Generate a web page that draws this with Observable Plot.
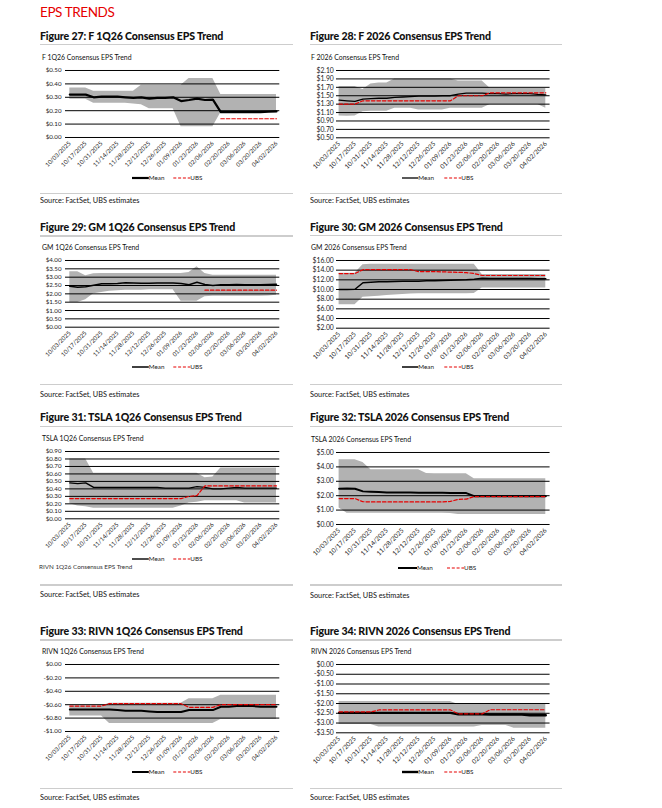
<!DOCTYPE html>
<html><head><meta charset="utf-8">
<script src="https://cdn.jsdelivr.net/npm/d3@7"></script>
<script src="https://cdn.jsdelivr.net/npm/@observablehq/plot@0.6"></script>
<style>
body{margin:0;background:#fff;font-family:Lato,"Open Sans",sans-serif;color:#111;}
#page{position:relative;width:662px;height:808px;overflow:hidden;background:#fff;}
.t{position:absolute;white-space:nowrap;line-height:1;}
.rule{position:absolute;height:1.5px;background:#cdcdcd;}
.chart{position:absolute;}
</style></head><body><div id="page"></div>
<script>
// ---------- data ----------
const xTickLabels = ["10/03/2025","10/17/2025","10/31/2025","11/14/2025","11/28/2025","12/12/2025","12/26/2025","01/09/2026","01/23/2026","02/06/2026","02/20/2026","03/06/2026","03/20/2026","04/02/2026"];
const weekIdx = [0,0.5,1,1.5,2,2.5,3,3.5,4,4.5,5,5.5,6,6.5,7,7.5,8,8.5,9,9.5,10,10.5,11,11.5,12,12.5,13];

// F 1Q26
const f1qTicks = [0,0.1,0.2,0.3,0.4,0.5];
const f1qMean = [0.32,0.32,0.32,0.30,0.305,0.305,0.305,0.30,0.295,0.30,0.29,0.295,0.295,0.30,0.272,0.28,0.29,0.28,0.283,0.19,0.19,0.19,0.19,0.19,0.19,0.192,0.195];
const f1qUbs = [null,null,null,null,null,null,null,null,null,null,null,null,null,null,null,null,null,null,null,0.14,0.14,0.14,0.14,0.14,0.14,0.14,0.14];
const f1qHigh = [0.37,0.37,0.37,0.345,0.345,0.345,0.345,0.345,0.345,0.39,0.39,0.39,0.39,0.39,0.39,0.44,0.44,0.44,0.44,0.32,0.32,0.32,0.32,0.32,0.32,0.32,0.32];
const f1qLow = [0.285,0.285,0.285,0.255,0.255,0.255,0.255,0.255,0.25,0.245,0.215,0.215,0.215,0.215,0.08,0.08,0.08,0.08,0.08,0.185,0.185,0.185,0.185,0.185,0.185,0.185,0.185];

// F 2026
const f26Ticks = [0.5,0.7,0.9,1.1,1.3,1.5,1.7,1.9,2.1];
const f26Mean = [1.395,1.38,1.365,1.42,1.43,1.44,1.44,1.46,1.47,1.48,1.49,1.49,1.49,1.50,1.50,1.54,1.56,1.56,1.56,1.55,1.55,1.54,1.55,1.55,1.55,1.53,1.52];
const f26Ubs = [1.30,1.30,1.30,1.38,1.38,1.38,1.38,1.38,1.38,1.38,1.38,1.38,1.38,1.38,1.38,1.50,1.50,1.50,1.50,1.57,1.57,1.57,1.57,1.57,1.57,1.57,1.57];
const f26High = [1.72,1.72,1.72,1.65,1.78,1.80,1.80,1.90,1.90,1.90,1.90,1.90,1.90,1.90,1.90,1.85,1.85,1.85,1.85,1.68,1.68,1.68,1.68,1.68,1.68,1.68,1.68];
const f26Low = [1.02,1.01,1.02,1.12,1.13,1.13,1.13,1.20,1.20,1.20,1.16,1.16,1.16,1.16,1.20,1.20,1.20,1.20,1.20,1.29,1.29,1.29,1.29,1.29,1.29,1.29,1.20];

// GM 1Q26
const gm1qTicks = [0,0.5,1,1.5,2,2.5,3,3.5,4];
const gm1qMean = [2.45,2.40,2.42,2.52,2.60,2.60,2.62,2.67,2.65,2.63,2.64,2.65,2.65,2.65,2.62,2.55,2.70,2.56,2.50,2.55,2.55,2.56,2.55,2.55,2.55,2.56,2.57];
const gm1qUbs = [null,null,null,null,null,null,null,null,null,null,null,null,null,null,null,null,null,2.22,2.22,2.22,2.22,2.22,2.22,2.22,2.22,2.22,2.22];
const gm1qHigh = [3.32,3.32,3.08,3.20,3.22,3.22,3.22,3.22,3.22,3.22,3.22,3.22,3.22,3.22,3.22,3.28,3.62,3.22,3.12,3.12,3.12,3.12,3.12,3.12,3.12,3.12,3.12];
const gm1qLow = [1.48,1.48,1.65,2.00,2.08,2.15,2.18,2.22,2.22,2.22,2.24,2.24,2.25,2.25,1.55,1.55,1.55,1.82,1.85,1.85,1.85,1.85,1.85,1.85,1.85,1.87,1.92];

// GM 2026
const gm26Ticks = [2,4,6,8,10,12,14,16];
const gm26Mean = [10.0,10.0,10.05,11.4,11.5,11.6,11.6,11.65,11.7,11.7,11.7,11.8,11.8,11.85,11.9,11.95,12.0,12.1,12.35,12.3,12.3,12.3,12.3,12.3,12.3,12.25,12.2];
const gm26Ubs = [13.3,13.3,13.3,14.1,14.1,14.1,14.1,14.1,14.1,14.1,13.7,13.7,13.7,13.65,13.6,13.55,13.5,13.3,12.9,12.9,12.9,12.9,12.9,12.9,12.9,12.9,12.9];
const gm26High = [13.35,13.35,13.35,15.1,15.2,15.2,15.2,15.2,15.2,15.2,15.2,15.2,15.2,15.2,15.2,15.2,15.2,15.2,13.1,13.1,13.1,13.1,13.1,13.1,13.1,13.1,13.1];
const gm26Low = [6.85,6.85,6.85,8.4,8.5,8.6,8.75,8.85,8.95,9.05,9.1,9.1,9.1,9.1,9.1,9.1,9.1,9.2,10.3,10.3,10.3,10.3,10.3,10.3,10.3,10.3,10.3];

// TSLA 1Q26
const ts1qTicks = [0,0.1,0.2,0.3,0.4,0.5,0.6,0.7,0.8,0.9];
const ts1qMean = [0.48,0.47,0.48,0.42,0.42,0.42,0.42,0.42,0.42,0.42,0.42,0.42,0.41,0.41,0.41,0.41,0.43,0.42,0.40,0.40,0.41,0.42,0.41,0.41,0.41,0.41,0.41];
const ts1qUbs = [0.27,0.27,0.27,0.27,0.27,0.27,0.27,0.27,0.27,0.27,0.27,0.27,0.27,0.27,0.27,0.30,0.31,0.44,0.44,0.44,0.44,0.44,0.44,0.44,0.44,0.44,0.44];
const ts1qHigh = [0.80,0.80,0.80,0.61,0.61,0.61,0.61,0.61,0.61,0.61,0.61,0.61,0.61,0.61,0.61,0.61,0.61,0.55,0.56,0.68,0.68,0.68,0.68,0.68,0.68,0.68,0.68];
const ts1qLow = [0.20,0.17,0.16,0.14,0.14,0.14,0.14,0.14,0.14,0.14,0.14,0.14,0.14,0.14,0.17,0.21,0.22,0.24,0.24,0.24,0.24,0.24,0.21,0.21,0.21,0.21,0.21];

// TSLA 2026
const ts26Ticks = [0,1,2,3,4,5];
const ts26Mean = [2.48,2.50,2.48,2.30,2.27,2.25,2.22,2.22,2.22,2.22,2.20,2.20,2.20,2.20,2.18,2.18,2.18,1.97,1.97,1.97,1.97,1.97,1.97,1.97,1.97,1.97,1.97];
const ts26Ubs = [1.80,1.80,1.80,1.58,1.57,1.57,1.57,1.57,1.57,1.57,1.57,1.57,1.57,1.57,1.60,1.75,1.76,1.94,1.94,1.94,1.94,1.94,1.94,1.94,1.94,1.94,1.94];
const ts26High = [4.5,4.5,4.5,4.3,3.8,3.8,3.8,3.8,3.8,3.8,3.8,3.55,3.52,3.52,3.52,3.52,3.52,3.18,3.18,3.18,3.18,3.18,3.18,3.18,3.18,3.18,3.18];
const ts26Low = [1.15,0.78,0.78,0.78,0.78,0.78,0.78,0.78,0.78,0.78,0.78,0.78,0.78,0.78,0.76,0.70,0.70,0.70,0.70,0.70,0.70,0.70,0.70,0.70,0.70,0.70,0.70];

// RIVN 1Q26
const rv1qTicks = [-1,-0.8,-0.6,-0.4,-0.2,0];
const rv1qMean = [-0.67,-0.67,-0.67,-0.67,-0.67,-0.67,-0.68,-0.69,-0.69,-0.69,-0.70,-0.71,-0.71,-0.71,-0.71,-0.68,-0.68,-0.68,-0.68,-0.63,-0.63,-0.62,-0.62,-0.62,-0.63,-0.63,-0.63];
const rv1qUbs = [-0.62,-0.62,-0.62,-0.62,-0.62,-0.585,-0.585,-0.585,-0.585,-0.585,-0.585,-0.585,-0.585,-0.585,-0.585,-0.64,-0.64,-0.64,-0.64,-0.60,-0.60,-0.60,-0.60,-0.60,-0.60,-0.60,-0.60];
const rv1qHigh = [-0.62,-0.62,-0.62,-0.62,-0.62,-0.58,-0.58,-0.58,-0.58,-0.58,-0.58,-0.58,-0.58,-0.58,-0.58,-0.51,-0.51,-0.51,-0.51,-0.46,-0.46,-0.46,-0.46,-0.46,-0.46,-0.46,-0.46];
const rv1qLow = [-0.77,-0.77,-0.77,-0.77,-0.77,-0.88,-0.88,-0.88,-0.88,-0.88,-0.88,-0.88,-0.88,-0.88,-0.88,-0.88,-0.88,-0.88,-0.88,-0.82,-0.82,-0.82,-0.82,-0.82,-0.82,-0.82,-0.82];

// RIVN 2026
const rv26Ticks = [-3.5,-3,-2.5,-2,-1.5,-1,-0.5,0];
const rv26Mean = [-2.48,-2.48,-2.48,-2.48,-2.48,-2.48,-2.48,-2.48,-2.48,-2.48,-2.48,-2.48,-2.48,-2.48,-2.48,-2.55,-2.55,-2.55,-2.55,-2.56,-2.56,-2.56,-2.56,-2.56,-2.60,-2.60,-2.60];
const rv26Ubs = [-2.43,-2.43,-2.43,-2.43,-2.43,-2.33,-2.33,-2.33,-2.33,-2.33,-2.33,-2.33,-2.33,-2.33,-2.33,-2.53,-2.53,-2.53,-2.53,-2.32,-2.32,-2.32,-2.32,-2.32,-2.32,-2.32,-2.32];
const rv26High = [-1.90,-1.90,-1.90,-1.90,-1.90,-1.90,-1.90,-1.90,-1.90,-1.90,-1.90,-1.90,-1.90,-1.90,-1.90,-2.05,-2.05,-2.05,-2.05,-2.00,-2.00,-2.00,-2.00,-2.00,-2.00,-2.00,-2.00];
const rv26Low = [-3.07,-3.07,-3.07,-3.07,-3.07,-3.20,-3.20,-3.20,-3.20,-3.20,-3.20,-3.20,-3.20,-3.20,-3.20,-3.20,-3.20,-3.20,-3.12,-3.12,-3.12,-3.12,-3.27,-3.27,-3.27,-3.27,-3.27];

const panels = [
  {fig:"Figure 27: F 1Q26 Consensus EPS Trend", inner:"F 1Q26 Consensus EPS Trend", ticks:f1qTicks, mean:f1qMean, ubs:f1qUbs, high:f1qHigh, low:f1qLow},
  {fig:"Figure 28: F 2026 Consensus EPS Trend", inner:"F 2026 Consensus EPS Trend", ticks:f26Ticks, mean:f26Mean, ubs:f26Ubs, high:f26High, low:f26Low},
  {fig:"Figure 29: GM 1Q26 Consensus EPS Trend", inner:"GM 1Q26 Consensus EPS Trend", ticks:gm1qTicks, mean:gm1qMean, ubs:gm1qUbs, high:gm1qHigh, low:gm1qLow},
  {fig:"Figure 30: GM 2026 Consensus EPS Trend", inner:"GM 2026 Consensus EPS Trend", ticks:gm26Ticks, mean:gm26Mean, ubs:gm26Ubs, high:gm26High, low:gm26Low},
  {fig:"Figure 31: TSLA 1Q26 Consensus EPS Trend", inner:"TSLA 1Q26 Consensus EPS Trend", ticks:ts1qTicks, mean:ts1qMean, ubs:ts1qUbs, high:ts1qHigh, low:ts1qLow},
  {fig:"Figure 32: TSLA 2026 Consensus EPS Trend", inner:"TSLA 2026 Consensus EPS Trend", ticks:ts26Ticks, mean:ts26Mean, ubs:ts26Ubs, high:ts26High, low:ts26Low},
  {fig:"Figure 33: RIVN 1Q26 Consensus EPS Trend", inner:"RIVN 1Q26 Consensus EPS Trend", ticks:rv1qTicks, mean:rv1qMean, ubs:rv1qUbs, high:rv1qHigh, low:rv1qLow},
  {fig:"Figure 34: RIVN 2026 Consensus EPS Trend", inner:"RIVN 2026 Consensus EPS Trend", ticks:rv26Ticks, mean:rv26Mean, ubs:rv26Ubs, high:rv26High, low:rv26Low}
];
const pageTitle = "EPS TRENDS";
const sourceText = "Source: FactSet, UBS estimates";
const ghostText = "RIVN 1Q26 Consensus EPS Trend";

// ---------- layout (positions / styles only) ----------
const cols = [
  {x0:40, x1:293, gx0:65, gx1:279.3, dx0:69.3, dx1:276, innerX:42, lg:[131.7,148.5,173,190], tickFont:6.2, xFont:6, tickPad:4},
  {x0:310, x1:562, gx0:335.7, gx1:549.3, dx0:338.3, dx1:545, innerX:311, lg:[401.7,418,444,461], tickFont:6.8, xFont:6.4, tickPad:2.7}
];
const layout = [
  {col:0, titleY:35.5, ruleTop:44.3, innerY:57.3, top:69.7, bottom:136.7, legendY:178.3, ruleBottom:193.3, sourceY:200.5, meanW:2.2},
  {col:1, titleY:35.5, ruleTop:44.3, innerY:57.3, top:69.7, bottom:137, legendY:178.3, ruleBottom:193.3, sourceY:200.5, meanW:1.3},
  {col:0, titleY:226.7, ruleTop:236, innerY:247.3, top:260, bottom:326.7, legendY:367.3, ruleBottom:384.3, sourceY:394.3, meanW:1.5},
  {col:1, titleY:226.7, ruleTop:235.7, innerY:247.7, top:260, bottom:327.7, legendY:367.3, ruleBottom:384.3, sourceY:394.3, meanW:1.5},
  {col:0, titleY:417.3, ruleTop:426.7, innerY:438.3, top:451, bottom:518.3, legendY:559, ruleBottom:585, sourceY:594.5, meanW:1.4},
  {col:1, titleY:417.3, ruleTop:426.7, innerY:439.3, top:452.3, bottom:524.3, legendY:568.3, ruleBottom:585, sourceY:595, meanW:2, lgOverride:[398,417,447,464]},
  {col:0, titleY:630.7, ruleTop:640, innerY:651.7, top:664, bottom:731, legendY:772.3, ruleBottom:788.3, sourceY:797.7, meanW:2},
  {col:1, titleY:630.7, ruleTop:640, innerY:651.7, top:664, bottom:732.3, legendY:772.3, ruleBottom:788.3, sourceY:797.7, meanW:2.4}
];

const page = document.getElementById("page");
function text(str, x, cy, size, extra) {
  const d = document.createElement("div");
  d.className = "t";
  d.textContent = str;
  d.style.left = x + "px";
  d.style.top = (cy - 0.47 * size) + "px";
  d.style.fontSize = size + "px";
  Object.assign(d.style, extra || {});
  page.appendChild(d);
  return d;
}
function rule(x0, x1, y) {
  const d = document.createElement("div");
  d.className = "rule";
  d.style.left = x0 + "px"; d.style.width = (x1 - x0) + "px"; d.style.top = (y - 0.75) + "px";
  page.appendChild(d);
}
const fmt = v => (v < 0 ? "-" : "") + "$" + Math.abs(v).toFixed(2);
const xTickPos = xTickLabels.map((d, i) => i);

text(pageTitle, 40, 12.7, 13.5, {color:"#e60000", letterSpacing:"-0.4px"});

panels.forEach((p, pi) => {
  const L = layout[pi], c = cols[L.col];
  text(p.fig, c.x0, L.titleY, 10.6, {fontWeight:"900", letterSpacing:"-0.15px"});
  rule(c.x0, c.x1, L.ruleTop);
  text(p.inner, c.innerX, L.innerY, 6.9, {color:"#111"});
  rule(c.x0, c.x1, L.ruleBottom);
  text(sourceText, c.x0, L.sourceY, 7.3, {color:"#111"});

  const rows = weekIdx.map((x, i) => ({x, mean:p.mean[i], ubs:p.ubs[i], low:p.low[i], high:p.high[i]}));
  const k = (c.dx1 - c.dx0) / 13;
  const xDom = [-(c.dx0 - c.gx0) / k, 13 + (c.gx1 - c.dx1) / k];
  const mL = 34, mR = 4, mT = 4, mB = 44;
  const w = mL + (c.gx1 - c.gx0) + mR;
  const h = mT + (L.bottom - L.top) + mB;
  const chart = Plot.plot({
    width: w, height: h, marginLeft: mL, marginRight: mR, marginTop: mT, marginBottom: mB,
    style: {fontFamily: "Lato, sans-serif", fontSize: c.tickFont + "px", color: "#1a1a1a", background: "transparent", overflow: "visible"},
    x: {domain: xDom, axis: null},
    y: {domain: d3.extent(p.ticks), axis: null},
    marks: [
      Plot.areaY(rows, {x: "x", y1: "low", y2: "high", fill: "#b2b2b2"}),
      Plot.ruleY(p.ticks, {stroke: "#000", strokeWidth: 1}),
      Plot.line(rows, {x: "x", y: "mean", stroke: "#000", strokeWidth: L.meanW}),
      Plot.line(rows, {x: "x", y: "ubs", stroke: "#e60000", strokeWidth: 1.2, strokeDasharray: "3.5,2"}),
      Plot.axisY(p.ticks, {tickFormat: fmt, tickSize: 0, tickPadding: c.tickPad, fontSize: c.tickFont, label: null}),
      Plot.axisX(xTickPos, {tickFormat: i => xTickLabels[i], tickRotate: -45, tickSize: 0, tickPadding: 5, fontSize: c.xFont, label: null})
    ]
  });
  chart.classList.add("chart");
  chart.style.left = (c.gx0 - mL) + "px";
  chart.style.top = (L.top - mT) + "px";
  page.appendChild(chart);

  // legend
  const lg = L.lgOverride || c.lg;
  const ns = "http://www.w3.org/2000/svg";
  const svg = document.createElementNS(ns, "svg");
  svg.setAttribute("width", 100); svg.setAttribute("height", 12);
  svg.style.position = "absolute";
  svg.style.left = lg[0] + "px"; svg.style.top = (L.legendY - 6) + "px";
  svg.style.overflow = "visible";
  const mk = (tag, attrs) => { const e = document.createElementNS(ns, tag); for (const a in attrs) e.setAttribute(a, attrs[a]); svg.appendChild(e); return e; };
  mk("line", {x1: 0, x2: lg[1] - lg[0], y1: 6, y2: 6, stroke: "#000", "stroke-width": L.meanW});
  const t1 = mk("text", {x: lg[1] - lg[0], y: 6, dy: "0.35em", "font-size": 6.3, "font-family": "Lato, sans-serif", fill: "#222"}); t1.textContent = "Mean";
  mk("line", {x1: lg[2] - lg[0], x2: lg[3] - lg[0], y1: 6, y2: 6, stroke: "#e60000", "stroke-width": 1.2, "stroke-dasharray": "3,1.8"});
  const t2 = mk("text", {x: lg[3] - lg[0], y: 6, dy: "0.35em", "font-size": 6.3, "font-family": "Lato, sans-serif", fill: "#222"}); t2.textContent = "UBS";
  page.appendChild(svg);
});

// stray caption under figure 31 (shown in full so it is not cut)
text(ghostText, 39, 567, 6.3, {color:"#333"});
</script></body></html>
